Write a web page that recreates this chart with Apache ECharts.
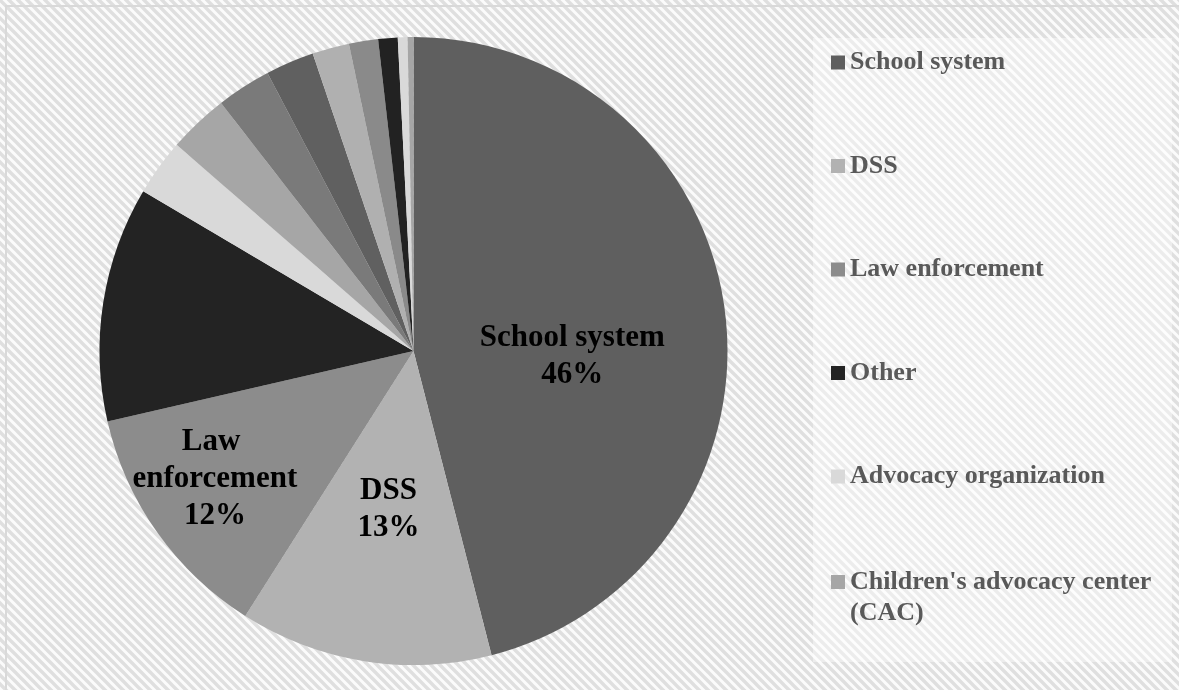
<!DOCTYPE html>
<html>
<head>
<meta charset="utf-8">
<script src="https://cdn.jsdelivr.net/npm/echarts@6/dist/echarts.min.js"></script>
<style>
html,body{margin:0;padding:0;background:#fff;}
#chart{width:1179px;height:690px;}
</style>
</head>
<body>
<div id="chart"></div>
<script>
// Data (percent of total)
const categories = [
  "School system", "DSS", "Law enforcement", "Other", "Advocacy organization",
  "Children's advocacy center (CAC)", "Category 7", "Category 8", "Category 9",
  "Category 10", "Category 11", "Category 12", "Category 13"
];
const values = [46, 13, 12.4, 12.1, 2.9, 3.1, 2.8, 2.5, 1.9, 1.5, 1.0, 0.5, 0.3];
const legendNamesA = categories.slice(0, 5);
const legendNamesB = categories.slice(5, 6);
const labelledCount = 3;

const colors = ['#5f5f5f', '#b2b2b2', '#8c8c8c', '#232323', '#d9d9d9', '#a6a6a6',
                '#7a7a7a', '#606060', '#b0b0b0', '#8a8a8a', '#222222', '#d9d9d9', '#a6a6a6'];
const labelOffsets = [[0, 26], [0, 0], [-68, 36]];
const labelWidths = [260, 120, 175];

// diagonal hatch background pattern
function makePattern(p, bg, fg) {
  const c = document.createElement('canvas');
  c.width = p; c.height = p;
  const ctx = c.getContext('2d');
  ctx.fillStyle = bg; ctx.fillRect(0, 0, p, p);
  ctx.strokeStyle = fg; ctx.lineWidth = p * 0.38;
  ctx.beginPath();
  for (let k = -1; k <= 1; k++) {
    ctx.moveTo(k * p - p, -p);
    ctx.lineTo(k * p + 2 * p, 2 * p);
  }
  ctx.stroke();
  return c;
}
const pat = makePattern(9, '#fbfbfb', '#dfdfdf');

const chart = echarts.init(document.getElementById('chart'), null, {renderer: 'canvas'});

const pieData = categories.map((name, i) => {
  const item = { name: name, value: values[i], itemStyle: { color: colors[i] } };
  if (i < labelledCount) {
    item.label = { show: true, offset: labelOffsets[i], width: labelWidths[i], overflow: 'break' };
  } else {
    item.label = { show: false };
  }
  return item;
});

const font = "'Liberation Serif', 'Times New Roman', serif";
const legendText = {
  fontFamily: font, fontWeight: 'bold', fontSize: 26, lineHeight: 31,
  color: '#595959', width: 320, overflow: 'break'
};
const legendCommon = {
  orient: 'vertical',
  left: 831,
  padding: 0,
  itemWidth: 14,
  itemHeight: 14,
  itemGap: 72.5,
  icon: 'rect',
  selectedMode: false,
  symbolKeepAspect: true
};

chart.setOption({
  animation: false,
  graphic: [
    { type: 'rect', z: -10, silent: true,
      shape: { x: 0, y: 0, width: 1179, height: 690 },
      style: { fill: { image: pat, repeat: 'repeat' } } },
    { type: 'rect', z: -9, silent: true,
      shape: { x: 813, y: 38, width: 359, height: 624 },
      style: { fill: 'rgba(255,255,255,0.42)' } },
    { type: 'rect', z: 100, silent: true,
      shape: { x: 6, y: 6, width: 1180, height: 690 },
      style: { fill: 'none', stroke: '#d9d9d9', lineWidth: 2 } }
  ],
  legend: [
    Object.assign({}, legendCommon, {
      data: legendNamesA, top: 47,
      textStyle: Object.assign({}, legendText)
    }),
    Object.assign({}, legendCommon, {
      data: legendNamesB, top: 566.5,
      itemHeight: 45,
      icon: 'path://M0,0L14,0L14,14L0,14Z M7,45L7,45.01',
      textStyle: Object.assign({}, legendText)
    })
  ],
  series: [{
    type: 'pie',
    center: [413.5, 351],
    radius: 314,
    startAngle: 90,
    clockwise: true,
    avoidLabelOverlap: false,
    label: {
      position: 'inside',
      fontFamily: font, fontWeight: 'bold', fontSize: 31, lineHeight: 37,
      color: '#000', align: 'center',
      formatter: function (p) { return p.name + '\n' + Math.round(p.percent) + '%'; }
    },
    labelLine: { show: false },
    itemStyle: { borderWidth: 0 },
    emphasis: { disabled: true },
    data: pieData
  }]
});
</script>
</body>
</html>
